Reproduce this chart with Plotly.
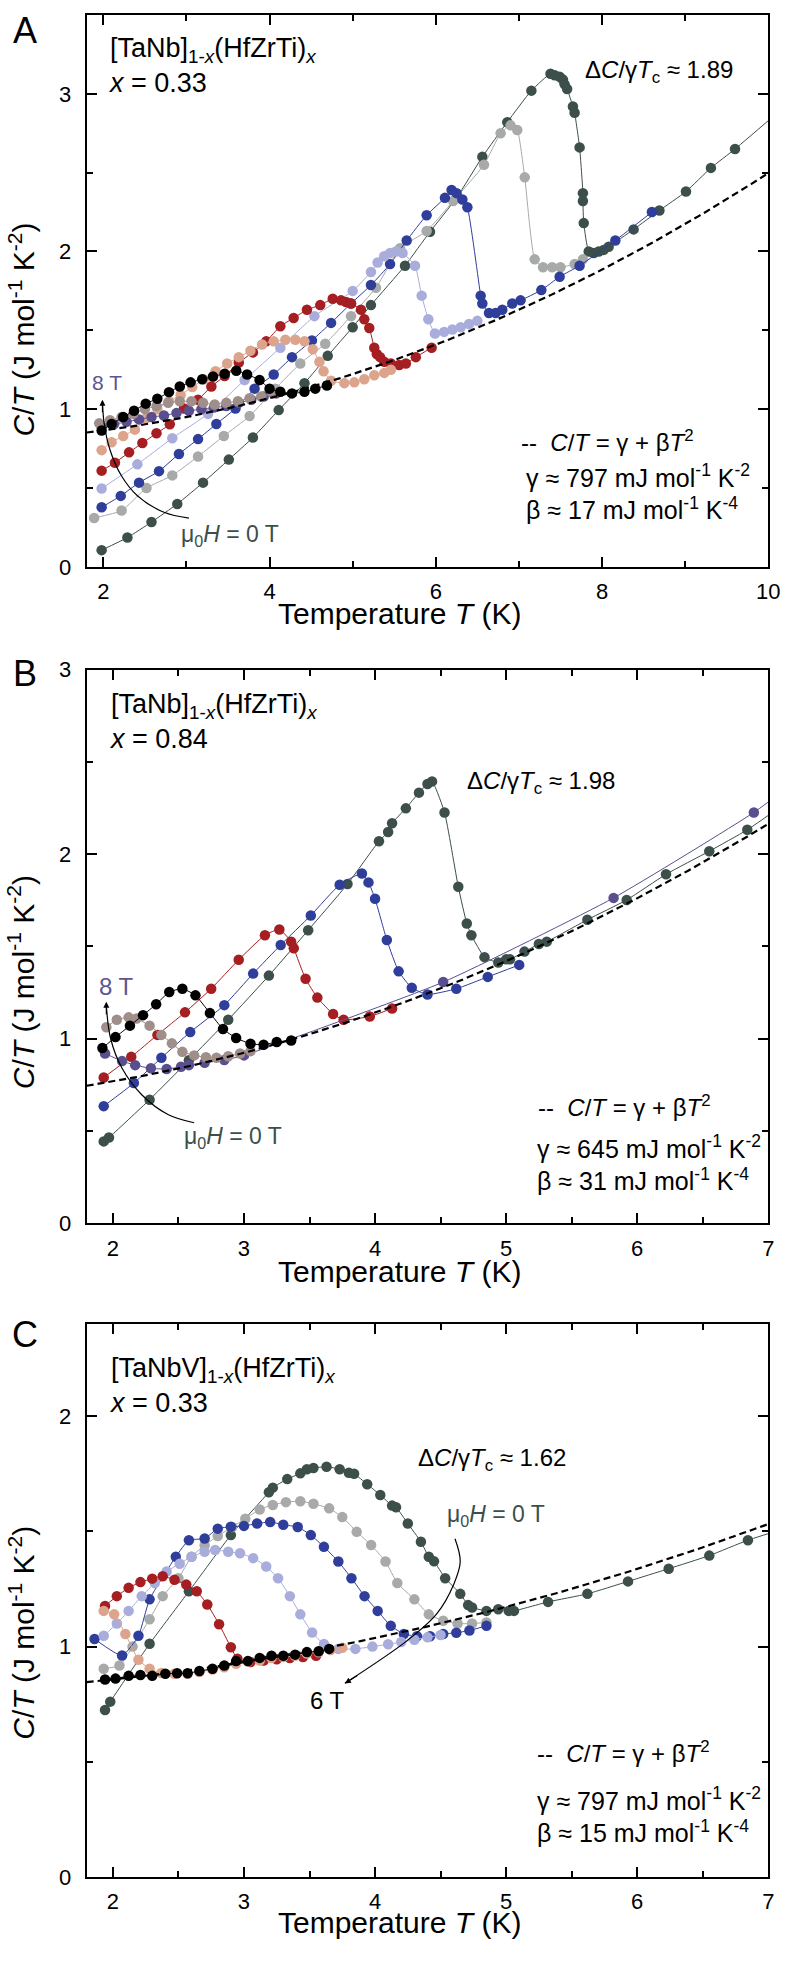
import numpy as np
import plotly.graph_objects as go

W, H = 798, 1964
FONT = "Liberation Sans, Arial, sans-serif"

# ---------------- colours ----------------
DKGREEN, GRAY, BLUE, LAVENDER = "#3c4f4b", "#a7aaa9", "#2f3e9b", "#a9addb"
RED, SALMON, BLACK, TAUPE, PURPLE = "#a51e22", "#dca48c", "#000000", "#a08e8a", "#5a4f8e"

# ---------------- Panel A : [TaNb]0.67(HfZrTi)0.33 ----------------
A_T_0T = [1.98, 2.29, 2.58, 2.89, 3.20, 3.51, 3.80, 4.11, 4.42, 4.70, 5.00, 5.22, 5.63, 5.93, 6.25, 6.56, 6.86, 7.15,
          7.38, 7.43, 7.49, 7.53, 7.55, 7.58, 7.65, 7.67, 7.73, 7.77, 7.77, 7.78, 7.84, 7.90, 7.96, 8.02, 8.08, 8.38,
          8.69, 9.01, 9.31, 9.60, 10.2]
A_C_0T = [0.106, 0.186, 0.284, 0.399, 0.534, 0.68, 0.82, 0.994, 1.165, 1.338, 1.52, 1.66, 1.91, 2.125, 2.34, 2.60, 2.82,
          3.02, 3.127, 3.118, 3.108, 3.09, 3.06, 3.03, 2.92, 2.88, 2.66, 2.37, 2.32, 2.18, 2.0, 1.99, 2.0, 2.01, 2.03,
          2.14, 2.26, 2.38, 2.53, 2.65, 2.92]
A_T_1T = [1.89, 2.22, 2.52, 2.83, 3.14, 3.45, 3.76, 4.07, 4.37, 4.67, 4.98, 5.28, 5.57, 5.89, 6.21, 6.58, 6.78, 6.90,
          6.98, 7.07, 7.19, 7.29, 7.40, 7.50, 7.67, 7.77]
A_C_1T = [0.31, 0.357, 0.50, 0.58, 0.70, 0.83, 0.956, 1.13, 1.29, 1.415, 1.59, 1.77, 2.02, 2.13, 2.32, 2.55, 2.75, 2.80,
          2.77, 2.47, 1.95, 1.90, 1.90, 1.90, 1.92, 1.95]
A_T_2T = [1.98, 2.21, 2.43, 2.67, 2.91, 3.14, 3.36, 3.59, 3.82, 4.05, 4.27, 4.51, 4.74, 4.98, 5.22, 5.45, 5.65, 5.89,
          6.11, 6.19, 6.25, 6.32, 6.38, 6.54, 6.56, 6.64, 6.72, 6.80, 6.92, 7.02, 7.27, 7.49, 7.73, 8.16, 8.60]
A_C_2T = [0.378, 0.45, 0.534, 0.607, 0.716, 0.81, 0.906, 1.004, 1.13, 1.22, 1.33, 1.436, 1.547, 1.67, 1.787, 1.92, 2.07,
          2.23, 2.34, 2.39, 2.37, 2.33, 2.28, 1.72, 1.67, 1.61, 1.61, 1.63, 1.67, 1.69, 1.755, 1.84, 1.91, 2.07, 2.25]
A_T_3T = [1.98, 2.41, 2.83, 3.26, 3.70, 4.13, 4.54, 5.0, 5.22, 5.30, 5.38, 5.45, 5.52, 5.60, 5.75, 5.83, 5.91, 5.99,
          6.10, 6.20, 6.30, 6.40, 6.50]
A_C_3T = [0.497, 0.65, 0.816, 0.97, 1.185, 1.39, 1.59, 1.75, 1.87, 1.93, 1.97, 1.99, 2.0, 1.99, 1.91, 1.72, 1.57, 1.48,
          1.49, 1.505, 1.52, 1.54, 1.56]
A_T_4T = [1.98, 2.14, 2.31, 2.47, 2.64, 2.80, 2.97, 3.14, 3.30, 3.46, 3.63, 3.80, 3.96, 4.13, 4.29, 4.45, 4.61, 4.76,
          4.86, 4.92, 4.98, 5.10, 5.14, 5.20, 5.26, 5.29, 5.33, 5.38, 5.46, 5.56, 5.64, 5.76, 5.95]
A_C_4T = [0.61, 0.66, 0.726, 0.785, 0.847, 0.904, 1.004, 1.06, 1.144, 1.21, 1.296, 1.36, 1.43, 1.526, 1.578, 1.63, 1.66,
          1.70, 1.69, 1.68, 1.67, 1.63, 1.57, 1.515, 1.39, 1.35, 1.33, 1.30, 1.29, 1.28, 1.29, 1.33, 1.39]
A_T_5T = [1.98, 2.10, 2.24, 2.38, 2.51, 2.65, 2.79, 2.93, 3.07, 3.21, 3.35, 3.49, 3.63, 3.77, 3.91, 4.05, 4.19, 4.31,
          4.42, 4.52, 4.60, 4.65, 4.74, 4.90, 5.02, 5.14, 5.26, 5.38, 5.46]
A_C_5T = [0.74, 0.79, 0.83, 0.87, 0.94, 1.0, 1.05, 1.09, 1.14, 1.19, 1.24, 1.29, 1.33, 1.37, 1.41, 1.43, 1.44, 1.44,
          1.43, 1.38, 1.30, 1.24, 1.18, 1.165, 1.17, 1.19, 1.215, 1.23, 1.25]
A_T_6T = [1.98, 2.10, 2.24, 2.37, 2.51, 2.65, 2.79, 2.92, 3.05, 3.19, 3.32, 3.46, 3.60, 3.73, 3.88, 4.00, 4.13, 4.27,
          4.42, 4.55, 4.69]
A_C_6T = [0.865, 0.906, 0.95, 0.99, 1.035, 1.066, 1.108, 1.144, 1.17, 1.19, 1.207, 1.225, 1.244, 1.22, 1.185, 1.13,
          1.11, 1.10, 1.11, 1.13, 1.15]
A_T_7T = [1.95, 2.08, 2.22, 2.36, 2.50, 2.64, 2.78, 2.92, 3.06, 3.20, 3.34, 3.48, 3.62, 3.76, 3.90, 4.04]
A_C_7T = [0.91, 0.93, 0.95, 0.97, 1.0, 1.02, 1.04, 1.05, 1.05, 1.04, 1.03, 1.04, 1.05, 1.07, 1.08, 1.10]
A_T_8T = [1.98, 2.13, 2.28, 2.43, 2.58, 2.73, 2.88, 3.03, 3.18, 3.33, 3.48, 3.63, 3.78, 3.93, 4.08]
A_C_8T = [0.89, 0.905, 0.92, 0.935, 0.95, 0.96, 0.975, 0.99, 1.0, 1.01, 1.02, 1.04, 1.06, 1.08, 1.10]
A_GAMMA, A_BETA = 0.797, 0.017

# ---------------- Panel B : [TaNb]0.16(HfZrTi)0.84 ----------------
B_T_green = [1.93, 1.97, 2.28, 2.58, 2.88, 3.19, 3.49, 3.79, 4.03, 4.10, 4.13, 4.235, 4.335, 4.40, 4.435, 4.53, 4.635,
             4.70, 4.735, 4.835, 4.94, 5.0, 5.03, 5.14, 5.25, 5.31, 5.62, 5.92, 6.22, 6.55, 6.84, 7.2]
B_C_green = [0.444, 0.465, 0.67, 0.884, 1.103, 1.342, 1.588, 1.838, 2.07, 2.12, 2.167, 2.248, 2.333, 2.38, 2.394, 2.226,
             1.823, 1.624, 1.561, 1.442, 1.413, 1.43, 1.43, 1.472, 1.513, 1.526, 1.645, 1.752, 1.891, 2.016, 2.132, 2.31]
B_T_blue = [1.93, 2.16, 2.37, 2.59, 2.85, 3.07, 3.28, 3.51, 3.73, 3.90, 3.95, 4.0, 4.09, 4.18, 4.28, 4.40, 4.62, 4.86,
            5.10]
B_C_blue = [0.635, 0.76, 0.897, 1.036, 1.182, 1.353, 1.508, 1.668, 1.834, 1.895, 1.847, 1.758, 1.535, 1.365, 1.276, 1.24,
            1.271, 1.335, 1.40]
B_T_red = [1.93, 2.14, 2.34, 2.55, 2.75, 2.96, 3.16, 3.27, 3.36, 3.38, 3.47, 3.56, 3.68, 3.76, 3.96, 4.13]
B_C_red = [0.79, 0.902, 1.021, 1.143, 1.271, 1.428, 1.561, 1.592, 1.526, 1.49, 1.325, 1.223, 1.134, 1.103, 1.121, 1.164]
B_T_black = [1.92, 2.02, 2.13, 2.23, 2.33, 2.43, 2.53, 2.63, 2.74, 2.84, 2.94, 3.05, 3.15, 3.25, 3.36]
B_C_black = [0.95, 1.009, 1.071, 1.128, 1.187, 1.253, 1.271, 1.235, 1.139, 1.053, 1.004, 0.973, 0.968, 0.982, 0.991]
B_T_taupe = [1.95, 2.03, 2.12, 2.18, 2.28, 2.37, 2.45, 2.53, 2.62, 2.71, 2.79, 2.88, 2.97, 3.05]
B_C_taupe = [1.062, 1.103, 1.116, 1.11, 1.071, 1.021, 0.975, 0.929, 0.91, 0.90, 0.897, 0.905, 0.92, 0.933]
B_T_purple = [1.94, 2.07, 2.17, 2.29, 2.41, 2.52, 2.58, 2.70, 2.85, 3.0, 4.52, 5.82, 6.89, 7.2]
B_C_purple = [0.92, 0.879, 0.857, 0.84, 0.836, 0.848, 0.857, 0.87, 0.885, 0.91, 1.307, 1.763, 2.226, 2.39]
B_GAMMA, B_BETA = 0.645, 0.031

# ---------------- Panel C : [TaNbV]0.67(HfZrTi)0.33 ----------------
C_T_0T = [1.94, 1.98, 2.28, 2.58, 2.90, 3.19, 3.22, 3.33, 3.43, 3.48, 3.53, 3.63, 3.73, 3.80, 3.84, 3.94, 4.04, 4.13,
          4.16, 4.25, 4.35, 4.41, 4.45, 4.535, 4.65, 4.71, 4.74, 4.85, 4.94, 5.02, 5.06, 5.32, 5.62, 5.93, 6.24, 6.55,
          6.845, 7.2]
C_C_0T = [0.725, 0.761, 1.012, 1.24, 1.484, 1.67, 1.69, 1.727, 1.752, 1.77, 1.775, 1.781, 1.77, 1.755, 1.75, 1.705,
          1.658, 1.612, 1.605, 1.534, 1.455, 1.39, 1.37, 1.297, 1.229, 1.18, 1.17, 1.155, 1.162, 1.155, 1.155, 1.194,
          1.229, 1.283, 1.338, 1.395, 1.462, 1.525]
C_T_1T = [1.93, 2.05, 2.15, 2.28, 2.38, 2.50, 2.60, 2.70, 2.80, 2.91, 3.01, 3.12, 3.22, 3.32, 3.43, 3.53, 3.65, 3.75,
          3.86, 3.97, 4.08, 4.17, 4.30, 4.41, 4.52, 4.63, 4.74, 4.85]
C_C_1T = [0.904, 0.918, 1.0, 1.119, 1.219, 1.297, 1.39, 1.44, 1.48, 1.519, 1.555, 1.595, 1.615, 1.627, 1.631, 1.62, 1.6,
          1.562, 1.498, 1.441, 1.369, 1.276, 1.205, 1.14, 1.112, 1.10, 1.10, 1.105]
C_T_2T = [1.86, 2.07, 2.195, 2.28, 2.48, 2.58, 2.70, 2.80, 2.90, 3.0, 3.10, 3.20, 3.30, 3.41, 3.51, 3.61, 3.72, 3.82,
          3.92, 4.02, 4.12, 4.22, 4.32, 4.42, 4.52, 4.62, 4.72, 4.85]
C_C_2T = [1.033, 0.961, 1.047, 1.205, 1.39, 1.462, 1.469, 1.512, 1.52, 1.524, 1.534, 1.541, 1.529, 1.519, 1.484, 1.433,
          1.369, 1.297, 1.219, 1.155, 1.09, 1.055, 1.045, 1.045, 1.055, 1.06, 1.07, 1.09]
C_T_3T = [1.93, 2.03, 2.12, 2.22, 2.32, 2.41, 2.51, 2.60, 2.70, 2.78, 2.88, 2.97, 3.07, 3.17, 3.26, 3.35, 3.43, 3.52,
          3.61, 3.72, 3.85, 3.98, 4.10, 4.20, 4.30, 4.40, 4.50]
C_C_3T = [1.047, 1.10, 1.155, 1.219, 1.276, 1.326, 1.36, 1.39, 1.412, 1.419, 1.412, 1.405, 1.384, 1.348, 1.297, 1.219,
          1.14, 1.061, 1.011, 0.99, 0.99, 1.0, 1.01, 1.02, 1.03, 1.04, 1.05]
C_T_4T = [1.94, 2.03, 2.12, 2.21, 2.30, 2.38, 2.47, 2.56, 2.64, 2.72, 2.81, 2.90, 2.95, 3.05, 3.15, 3.25, 3.35, 3.45, 3.55]
C_C_4T = [1.176, 1.219, 1.255, 1.28, 1.295, 1.305, 1.29, 1.269, 1.24, 1.183, 1.097, 0.997, 0.947, 0.933, 0.94, 0.945,
          0.95, 0.955, 0.96]
C_T_5T = [1.93, 2.01, 2.095, 2.195, 2.28, 2.37, 2.47, 2.57, 2.66, 2.76, 2.85, 2.94, 3.03, 3.12, 3.21, 3.30, 3.39, 3.48,
          3.57, 3.66, 3.75]
C_C_5T = [1.155, 1.14, 1.055, 0.943, 0.904, 0.885, 0.882, 0.882, 0.89, 0.90, 0.91, 0.925, 0.935, 0.94, 0.95, 0.955, 0.96,
          0.97, 0.975, 0.985, 0.995]
C_T_6T = [1.94, 2.02, 2.12, 2.21, 2.30, 2.40, 2.49, 2.57, 2.66, 2.76, 2.85, 2.94, 3.03, 3.12, 3.21, 3.30, 3.39, 3.48,
          3.57, 3.65]
C_C_6T = [0.857, 0.861, 0.873, 0.877, 0.873, 0.882, 0.884, 0.884, 0.894, 0.904, 0.918, 0.937, 0.937, 0.951, 0.96, 0.96,
          0.965, 0.976, 0.98, 0.99]
C_GAMMA, C_BETA = 0.797, 0.015

# ---------------- figure ----------------
fig = go.Figure()

def add_series(T, Cv, col, ax):
    fig.add_trace(go.Scatter(
        x=T, y=Cv, mode="lines+markers", xaxis="x" + ax, yaxis="y" + ax,
        line=dict(color=col, width=1, shape="spline", smoothing=0.5),
        marker=dict(size=10.5, color=col), showlegend=False, hoverinfo="skip"))

def add_fit(gamma, beta, tmin, tmax, ax):
    Tf = np.linspace(tmin, tmax, 120)
    fig.add_trace(go.Scatter(
        x=Tf, y=gamma + beta * Tf ** 2, mode="lines", xaxis="x" + ax, yaxis="y" + ax,
        line=dict(color="black", width=2.2, dash="7px,4px"), showlegend=False, hoverinfo="skip"))

for col, t, c in [(DKGREEN, A_T_0T, A_C_0T), (GRAY, A_T_1T, A_C_1T), (BLUE, A_T_2T, A_C_2T),
                  (LAVENDER, A_T_3T, A_C_3T), (RED, A_T_4T, A_C_4T), (SALMON, A_T_5T, A_C_5T),
                  (PURPLE, A_T_8T, A_C_8T), (TAUPE, A_T_7T, A_C_7T), (BLACK, A_T_6T, A_C_6T)]:
    add_series(t, c, col, "")
add_fit(A_GAMMA, A_BETA, 1.8, 10.0, "")

for col, t, c in [(DKGREEN, B_T_green, B_C_green), (BLUE, B_T_blue, B_C_blue), (RED, B_T_red, B_C_red),
                  (PURPLE, B_T_purple, B_C_purple), (TAUPE, B_T_taupe, B_C_taupe), (BLACK, B_T_black, B_C_black)]:
    add_series(t, c, col, "2")
add_fit(B_GAMMA, B_BETA, 1.8, 7.0, "2")

for col, t, c in [(DKGREEN, C_T_0T, C_C_0T), (GRAY, C_T_1T, C_C_1T), (BLUE, C_T_2T, C_C_2T),
                  (LAVENDER, C_T_3T, C_C_3T), (RED, C_T_4T, C_C_4T), (SALMON, C_T_5T, C_C_5T),
                  (BLACK, C_T_6T, C_C_6T)]:
    add_series(t, c, col, "3")
add_fit(C_GAMMA, C_BETA, 1.8, 7.0, "3")

# curved arrow bodies
ARC_A_T = [3.03, 2.73, 2.41, 2.22, 2.08, 2.01, 1.99]
ARC_A_C = [0.309, 0.346, 0.451, 0.576, 0.743, 0.91, 1.046]
ARC_B_T = [2.62, 2.42, 2.22, 2.07, 1.983, 1.95]
ARC_B_C = [0.545, 0.59, 0.697, 0.84, 1.0, 1.178]
ARC_C_T = [4.61, 4.65, 4.60, 4.47, 4.245, 3.77]
ARC_C_C = [1.468, 1.369, 1.27, 1.142, 1.026, 0.841]
for t, c, ax_ in [(ARC_A_T, ARC_A_C, ""), (ARC_B_T, ARC_B_C, "2"), (ARC_C_T, ARC_C_C, "3")]:
    fig.add_trace(go.Scatter(x=t, y=c, mode="lines", xaxis="x" + ax_, yaxis="y" + ax_,
                             line=dict(color="black", width=1.2, shape="spline", smoothing=1.0),
                             showlegend=False, hoverinfo="skip"))

# ---------------- axes ----------------
XL, XR = 88, 780
def ydom(top, bot):
    return [1 - bot / H, 1 - top / H]

MINOR = dict(ticks="inside", ticklen=6, tickwidth=2, tickcolor="black")

def axis_style(**kw):
    d = dict(showline=True, linecolor="black", linewidth=2, mirror="ticks", ticks="inside", ticklen=10,
             tickwidth=2, tickcolor="black", showgrid=False, zeroline=False,
             tickfont=dict(size=22, color="black", family=FONT))
    d.update(kw)
    return d

fig.update_layout(
    xaxis=axis_style(domain=[XL / W, XR / W], range=[1.8, 10], anchor="y", tick0=2, dtick=2, ticklabelstandoff=4,
                     minor=dict(MINOR, dtick=1, tick0=1)),
    yaxis=axis_style(domain=ydom(3, 562), range=[0, 3.5], anchor="x", tick0=0, dtick=1, ticklabelstandoff=9,
                     minor=dict(MINOR, dtick=0.5, tick0=0)),
    xaxis2=axis_style(domain=[XL / W, XR / W], range=[1.8, 7], anchor="y2", tick0=2, dtick=1, ticklabelstandoff=4,
                      minor=dict(MINOR, dtick=0.5, tick0=0)),
    yaxis2=axis_style(domain=ydom(666, 1227), range=[0, 3], anchor="x2", tick0=0, dtick=1, ticklabelstandoff=9,
                      minor=dict(MINOR, dtick=0.5, tick0=0)),
    xaxis3=axis_style(domain=[XL / W, XR / W], range=[1.8, 7], anchor="y3", tick0=2, dtick=1, ticklabelstandoff=4,
                      minor=dict(MINOR, dtick=0.5, tick0=0)),
    yaxis3=axis_style(domain=ydom(1329, 1889), range=[0, 2.4], anchor="x3", tick0=0, dtick=1, ticklabelstandoff=9,
                      minor=dict(MINOR, dtick=0.5, tick0=0)),
    width=W, height=H, margin=dict(l=0, r=0, t=0, b=0),
    paper_bgcolor="white", plot_bgcolor="white", font=dict(family=FONT, color="black"),
)

# ---------------- text ----------------
ann = []
def txt(x, y, s, ax="", size=21, color="black", xanchor="left", ref="data", yanchor="middle"):
    if ref == "data":
        ann.append(dict(x=x, y=y, xref="x" + ax, yref="y" + ax, text=s, showarrow=False, xanchor=xanchor,
                        yanchor=yanchor, align="left", font=dict(size=size, color=color, family=FONT)))
    else:
        ann.append(dict(x=x / W, y=1 - y / H, xref="paper", yref="paper", text=s, showarrow=False,
                        xanchor=xanchor, yanchor=yanchor, font=dict(size=size, color=color, family=FONT)))

YT = "<i>C</i>/<i>T</i> (J mol<sup>-1</sup> K<sup>-2</sup>)"
XT = "Temperature <i>T</i> (K)"
FIT = "--  <i>C</i>/<i>T</i> = γ + β<i>T</i><sup>2</sup>"
DC = "Δ<i>C</i>/γ<i>T</i><sub>c</sub> ≈ "
MUH = "μ<sub>0</sub><i>H</i> = 0 T"
GRAY_T = "#3c4f4b"
PURP_T = "#5b5593"
LBL = 27
GB = 25

def gb(g, b):
    return ("γ ≈ %s mJ mol<sup>-1</sup> K<sup>-2</sup><br>β ≈ %s mJ mol<sup>-1</sup> K<sup>-4</sup>" % (g, b))

def comp(head, x):
    return head + "<br><i>x</i> = " + x

TANB = "[TaNb]<sub>1-<i>x</i></sub>(HfZrTi)<sub><i>x</i></sub>"
TANBV = "[TaNbV]<sub>1-<i>x</i></sub>(HfZrTi)<sub><i>x</i></sub>"

for letter, ly, ytc, xty in [("A", 19, 322, 609), ("B", 670, 983, 1276), ("C", 1340, 1642, 1935)]:
    txt(25, ly, letter, size=36, xanchor="center", ref="paper")
    ann.append(dict(x=22 / W, y=1 - ytc / H, xref="paper", yref="paper", text=YT, textangle=-90, showarrow=False,
                    xanchor="center", yanchor="middle", font=dict(size=30, color="black", family=FONT)))
    txt(406, xty, XT, size=30, xanchor="center", ref="paper")

# panel A
txt(2.035, 3.18, comp(TANB, "0.33"), "", size=LBL)
txt(7.77, 3.14, DC + "1.89", "", size=24)
txt(7.0, 0.80, FIT, "", size=24)
txt(7.06, 0.475, gb("797", "17"), "", size=GB)
txt(2.04, 1.17, "8 T", "", size=21, color=PURP_T, xanchor="center")
txt(3.53, 0.20, MUH, "", size=23, color=GRAY_T, xanchor="center")

# panel B
txt(1.955, 2.72, comp(TANB, "0.84"), "2", size=LBL)
txt(4.69, 2.39, DC + "1.98", "2", size=24)
txt(5.23, 0.636, FIT, "2", size=24)
txt(5.22, 0.325, gb("645", "31"), "2", size=GB)
txt(2.03, 1.283, "8 T", "2", size=24, color=PURP_T, xanchor="center")
txt(2.92, 0.465, MUH, "2", size=23, color=GRAY_T, xanchor="center")

# panel C
txt(1.955, 2.135, comp(TANBV, "0.33"), "3", size=LBL)
txt(4.31, 1.811, DC + "1.62", "3", size=24)
txt(5.22, 0.541, FIT, "3", size=24)
txt(5.22, 0.268, gb("797", "15"), "3", size=GB)
txt(4.92, 1.571, MUH, "3", size=23, color=GRAY_T, xanchor="center")
txt(3.64, 0.768, "6 T", "3", size=24, xanchor="center")

# arrow heads
for x, y, ax_, axo, ayo in [(1.99, 1.06, "", 0, 14), (1.95, 1.20, "2", 0, 14), (3.77, 0.84, "3", 14, -9)]:
    ann.append(dict(x=x, y=y, xref="x" + ax_, yref="y" + ax_, ax=axo, ay=ayo, text="", showarrow=True,
                    arrowhead=2, arrowsize=1, arrowwidth=1.2, arrowcolor="black"))
fig.update_layout(annotations=ann)

fig.write_html("out.html", config={"displayModeBar": False},
               post_script="document.body.style.margin='0px';document.body.style.padding='0px';")
